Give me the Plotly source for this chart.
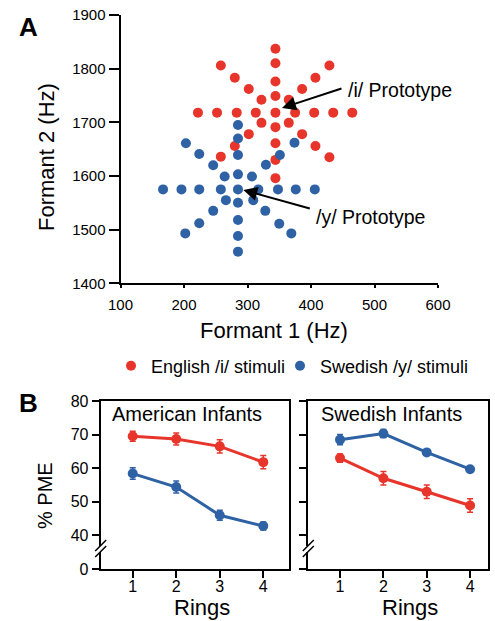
import plotly.graph_objects as go

W, H = 495, 621
RED = "#E8352B"
BLUE = "#2F62A5"
FONT = "Liberation Sans, Arial, sans-serif"

# ---------------- Panel A data (Formant 1 / Formant 2, Hz) ----------------
english_f1 = [222, 252, 283, 313, 344, 375, 405, 435, 465,
              344, 344, 344, 344, 344, 344, 344, 344,
              322, 302, 280, 258,
              365, 386, 407, 429,
              322, 302, 280, 258,
              365, 386, 407, 429]
english_f2 = [1718, 1718, 1718, 1718, 1718, 1718, 1718, 1718, 1718,
              1749, 1776, 1810, 1837, 1691, 1661, 1630, 1596,
              1742, 1762, 1783, 1806,
              1742, 1762, 1783, 1806,
              1699, 1678, 1656, 1636,
              1699, 1678, 1656, 1635]

swedish_f1 = [167, 196, 224, 258, 285, 317, 348, 376, 406,
              285, 285, 285, 285, 285, 285, 285, 285,
              264, 246, 224, 203,
              307, 329, 351, 374,
              266, 246, 224, 202,
              309, 328, 350, 369]
swedish_f2 = [1575, 1575, 1575, 1575, 1575, 1575, 1575, 1575, 1575,
              1603, 1639, 1670, 1695, 1550, 1518, 1488, 1459,
              1599, 1620, 1641, 1661,
              1599, 1621, 1639, 1662,
              1555, 1535, 1512, 1493,
              1555, 1535, 1511, 1493]

f1_ticks = [100, 200, 300, 400, 500, 600]
f2_ticks = [1400, 1500, 1600, 1700, 1800, 1900]

# ---------------- Panel B data (% PME by ring) ----------------
rings = [1, 2, 3, 4]
am_english = [69.5, 68.7, 66.5, 61.8]
am_english_err = [1.5, 1.8, 2.0, 2.0]
am_swedish = [58.4, 54.4, 46.0, 42.8]
am_swedish_err = [1.7, 1.8, 1.5, 1.2]
sw_english = [63.0, 57.0, 53.0, 48.9]
sw_english_err = [1.2, 2.0, 2.0, 2.0]
sw_swedish = [68.5, 70.3, 64.7, 59.7]
sw_swedish_err = [1.5, 1.2, 0.8, 0.8]
pme_tickvals = [30, 40, 50, 60, 70, 80]
pme_ticktext = ["0", "40", "50", "60", "70", "80"]


def px(x):
    return x / W


def py(y):
    return 1 - y / H


fig = go.Figure()

fig.add_trace(go.Scatter(x=english_f1, y=english_f2, mode="markers", name="English /i/ stimuli",
                         marker=dict(color=RED, size=10), xaxis="x", yaxis="y", legend="legend"))
fig.add_trace(go.Scatter(x=swedish_f1, y=swedish_f2, mode="markers", name="Swedish /y/ stimuli",
                         marker=dict(color=BLUE, size=10), xaxis="x", yaxis="y", legend="legend2"))


def line_trace(yvals, err, color, xa, ya):
    return go.Scatter(x=rings, y=yvals, mode="lines+markers", showlegend=False,
                      line=dict(color=color, width=3),
                      marker=dict(color=color, size=10),
                      error_y=dict(type="data", array=err, color=color, thickness=1.5, width=3),
                      xaxis=xa, yaxis=ya)


fig.add_trace(line_trace(am_english, am_english_err, RED, "x2", "y2"))
fig.add_trace(line_trace(am_swedish, am_swedish_err, BLUE, "x2", "y2"))
fig.add_trace(line_trace(sw_english, sw_english_err, RED, "x3", "y3"))
fig.add_trace(line_trace(sw_swedish, sw_swedish_err, BLUE, "x3", "y3"))

axis_common = dict(showgrid=False, zeroline=False, showline=True, linecolor="black",
                   linewidth=2, tickcolor="black", tickwidth=1.5, automargin=False,
                   tickfont=dict(family=FONT, size=15, color="black"))
tf16 = dict(family=FONT, size=16, color="black")
legend_common = dict(orientation="h", xanchor="left", y=py(366), yanchor="middle",
                     font=dict(family=FONT, size=18, color="black"), bgcolor="rgba(0,0,0,0)",
                     itemsizing="trace")

fig.update_layout(
    width=W, height=H, margin=dict(l=0, r=0, t=0, b=0, autoexpand=False),
    paper_bgcolor="white", plot_bgcolor="white",
    font=dict(family=FONT, color="black"),
    xaxis=dict(domain=[px(120.5), px(438)], range=[100, 600], tickvals=f1_ticks,
               ticks="outside", ticklen=3, ticklabelstandoff=4, anchor="y", **axis_common),
    yaxis=dict(domain=[py(283.3), py(15)], range=[1400, 1900], tickvals=f2_ticks,
               ticks="outside", ticklen=10, anchor="x", **axis_common),
    xaxis2=dict(domain=[px(100.7), px(289.3)], range=[0.264, 4.598], tickvals=rings,
                ticks="outside", ticklen=7, ticklabelstandoff=-5, mirror=True, anchor="y2",
                **{**axis_common, "tickfont": tf16}),
    yaxis2=dict(domain=[py(569), py(401)], range=[30, 80], tickvals=pme_tickvals,
                ticktext=pme_ticktext, ticks="outside", ticklen=7, mirror=True, anchor="x2",
                **{**axis_common, "tickfont": tf16}),
    xaxis3=dict(domain=[px(308.3), px(488.3)], range=[0.268, 4.42], tickvals=rings,
                ticks="outside", ticklen=7, ticklabelstandoff=-5, mirror=True, anchor="y3",
                **{**axis_common, "tickfont": tf16}),
    yaxis3=dict(domain=[py(569), py(401)], range=[30, 80], tickvals=pme_tickvals,
                showticklabels=False, ticks="outside", ticklen=7, mirror=True, anchor="x3",
                **axis_common),
    legend=dict(x=px(111), **legend_common),
    legend2=dict(x=px(280), **legend_common),
)

ann = []


def text(t, x, y, size, xanchor="center", angle=0, bold=False):
    ann.append(dict(text=("<b>%s</b>" % t) if bold else t, x=px(x), y=py(y), xref="paper",
                    yref="paper", xanchor=xanchor, yanchor="middle", showarrow=False,
                    textangle=angle, font=dict(family=FONT, size=size, color="black")))


text("A", 28, 27, 26, bold=True)
text("B", 28, 403, 26, bold=True)
text("Formant 2 (Hz)", 46, 157, 22, angle=-90)
text("Formant 1 (Hz)", 274, 330, 22)
text("/i/ Prototype", 346, 90, 19.5, xanchor="left")
text("/y/ Prototype", 314, 217, 19.5, xanchor="left")
text("% PME", 45, 496, 20, angle=-90)
text("American Infants", 110, 414, 20, xanchor="left")
text("Swedish Infants", 319, 414, 20, xanchor="left")
text("Rings", 202, 607, 22)
text("Rings", 410, 607, 22)

# arrows pointing at the prototypes
ann.append(dict(x=354.3, y=1726.7, xref="x", yref="y", ax=61, ay=-20, axref="pixel", ayref="pixel",
                text="", showarrow=True, arrowhead=2, arrowsize=1.4, arrowwidth=2,
                arrowcolor="black", standoff=0, startstandoff=0))
ann.append(dict(x=293.4, y=1573.9, xref="x", yref="y", ax=68, ay=19, axref="pixel", ayref="pixel",
                text="", showarrow=True, arrowhead=2, arrowsize=1.4, arrowwidth=2,
                arrowcolor="black", standoff=0, startstandoff=0))
fig.update_layout(annotations=ann)

# axis-break marks
shapes = []
for x0 in (100.7, 308.3):
    shapes.append(dict(type="rect", xref="paper", yref="paper", x0=px(x0 - 3), x1=px(x0 + 3),
                       y0=py(552), y1=py(546), fillcolor="white", line=dict(width=0), layer="above"))
    for dy in (0, -6):
        shapes.append(dict(type="line", xref="paper", yref="paper",
                           x0=px(x0 - 5.5), y0=py(557 + dy), x1=px(x0 + 5.5), y1=py(546 + dy),
                           line=dict(color="black", width=1.5), layer="above"))
fig.update_layout(shapes=shapes)

fig.write_html("out.html", config={"displayModeBar": False},
               post_script="document.body.style.margin='0';document.body.style.overflow='hidden';")
